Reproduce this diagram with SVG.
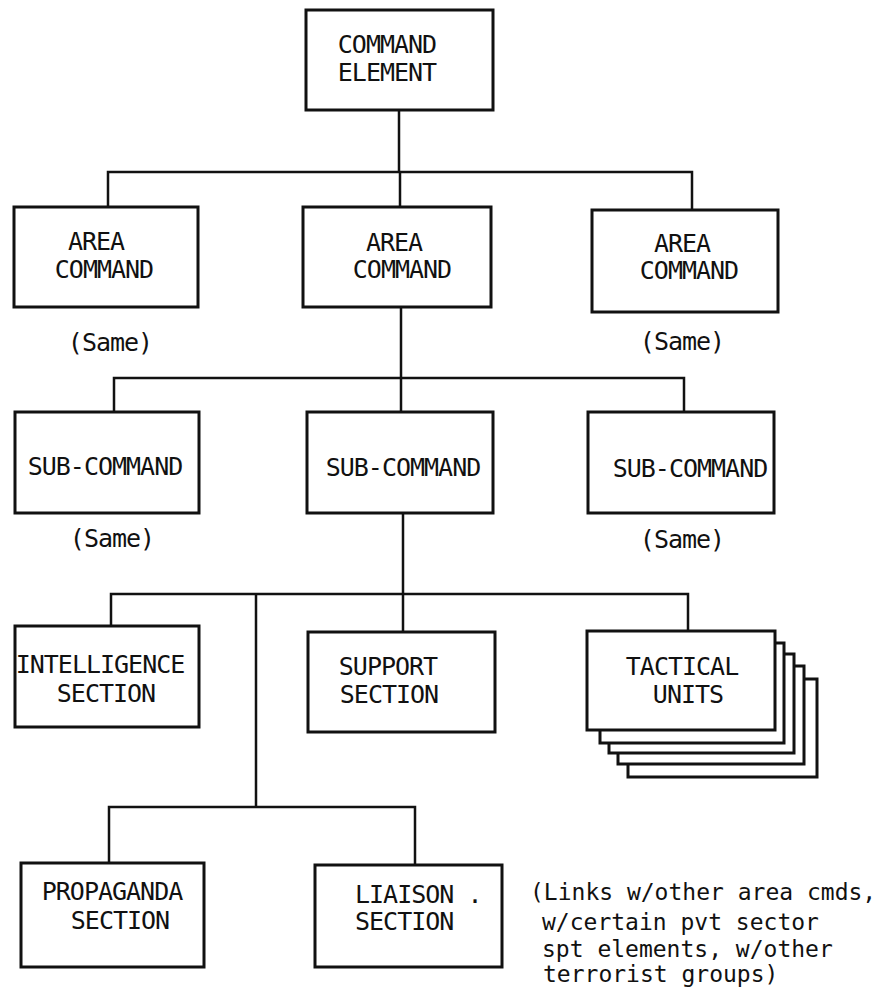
<svg xmlns="http://www.w3.org/2000/svg" width="887" height="992" viewBox="0 0 887 992">
<style>
.box{fill:#fff;stroke:#111;stroke-width:3}
.ln{fill:none;stroke:#111;stroke-width:2.5;stroke-linecap:square}
text{font-family:"DejaVu Sans Mono","Liberation Mono",monospace;font-size:25px;letter-spacing:-1px;fill:#111}
.c{text-anchor:middle}
.note{font-size:23px;letter-spacing:0}
</style>
<rect width="887" height="992" fill="#fff"/>
<g id="connectors">
<path class="ln" d="M399 110V172M108 172H692M108 172V207M400 172V207M692 172V210"/>
<path class="ln" d="M401 307V412M114 378H684M114 378V412M684 378V412"/>
<path class="ln" d="M403 513V632M111 594H688M111 594V626M688 594V631M256 594V807M109 807H415M109 807V863M415 807V865"/>
</g>
<g id="command-element">
<rect class="box" x="306" y="10" width="187" height="100"/>
<text class="c" x="387" y="53">COMMAND</text>
<text class="c" x="387" y="81">ELEMENT</text>
</g>
<g id="area-command-left">
<rect class="box" x="14" y="207" width="184" height="100"/>
<text class="c" x="96" y="250">AREA</text>
<text class="c" x="104" y="278">COMMAND</text>
<text class="c" x="110" y="351">(Same)</text>
</g>
<g id="area-command-center">
<rect class="box" x="303" y="207" width="188" height="100"/>
<text class="c" x="394" y="251">AREA</text>
<text class="c" x="402" y="278">COMMAND</text>
</g>
<g id="area-command-right">
<rect class="box" x="592" y="210" width="186" height="102"/>
<text class="c" x="682" y="252">AREA</text>
<text class="c" x="689" y="279">COMMAND</text>
<text class="c" x="682" y="350">(Same)</text>
</g>
<g id="sub-command-left">
<rect class="box" x="15" y="412" width="184" height="101"/>
<text class="c" x="105" y="475">SUB-COMMAND</text>
<text class="c" x="112" y="547">(Same)</text>
</g>
<g id="sub-command-center">
<rect class="box" x="307" y="412" width="186" height="101"/>
<text class="c" x="403" y="476">SUB-COMMAND</text>
</g>
<g id="sub-command-right">
<rect class="box" x="588" y="412" width="186" height="101"/>
<text class="c" x="690" y="477">SUB-COMMAND</text>
<text class="c" x="682" y="548">(Same)</text>
</g>
<g id="intelligence-section">
<rect class="box" x="15" y="626" width="184" height="101"/>
<text class="c" x="100" y="673">INTELLIGENCE</text>
<text class="c" x="106" y="702">SECTION</text>
</g>
<g id="support-section">
<rect class="box" x="308" y="632" width="187" height="100"/>
<text class="c" x="388" y="675">SUPPORT</text>
<text class="c" x="389" y="703">SECTION</text>
</g>
<g id="tactical-units">
<rect class="box" x="628" y="679" width="189" height="98"/>
<rect class="box" x="618" y="666" width="186" height="98"/>
<rect class="box" x="609" y="654" width="185" height="99"/>
<rect class="box" x="600" y="643" width="184" height="100"/>
<rect class="box" x="587" y="631" width="188" height="99"/>
<text class="c" x="682" y="675">TACTICAL</text>
<text class="c" x="688" y="703">UNITS</text>
</g>
<g id="propaganda-section">
<rect class="box" x="21" y="863" width="183" height="104"/>
<text class="c" x="112" y="900">PROPAGANDA</text>
<text class="c" x="120" y="929">SECTION</text>
</g>
<g id="liaison-section">
<rect class="box" x="315" y="865" width="187" height="102"/>
<text x="355" y="903">LIAISON .</text>
<text x="355" y="930">SECTION</text>
</g>
<g id="links-note">
<text class="note" x="530" y="900">(Links w/other area cmds,</text>
<text class="note" x="542" y="930">w/certain pvt sector</text>
<text class="note" x="542" y="957">spt elements, w/other</text>
<text class="note" x="543" y="982">terrorist groups)</text>
</g>
</svg>
